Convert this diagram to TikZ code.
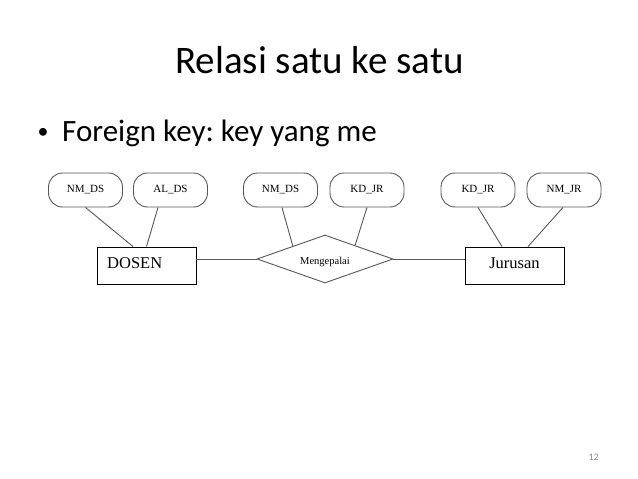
\documentclass[tikz,border=0pt]{standalone}
\usepackage{fontspec}
\setmainfont{Carlito}
\newfontfamily\erfont{Liberation Serif}
\usetikzlibrary{shapes.geometric,calc}
\definecolor{lncol}{HTML}{585858}
\definecolor{pgnum}{HTML}{8C8C8C}
\tikzset{
  attr/.style={draw=lncol, line width=0.9pt, rounded corners=14pt, minimum width=74pt, minimum height=34pt, inner sep=0pt, font=\erfont\fontsize{11}{13}\selectfont},
  entity/.style={draw=black, line width=0.9pt, minimum width=99pt, minimum height=37pt, inner sep=0pt},
  rel/.style={draw=lncol, line width=0.9pt, diamond, minimum width=136pt, minimum height=48pt, inner sep=0pt, aspect=2.83},
  reltext/.style={font=\erfont\fontsize{10.5}{12}\selectfont, inner sep=0pt},
  conn/.style={draw=lncol, line width=0.9pt},
  enttext/.style={font=\erfont\fontsize{16.5}{19}\selectfont, inner sep=0pt}
}
\begin{document}
\frenchspacing
\begin{tikzpicture}[x=1pt,y=-1pt]
\useasboundingbox[fill=white] (0,0) rectangle (638,479);
% title and text
\node[anchor=base, font=\fontsize{39}{46}\selectfont, inner sep=0pt] (title) at (319.5,73) {Relasi satu ke satu};
\node[anchor=base, font=\fontsize{22}{26}\selectfont, inner sep=0pt] (bullet) at (43,138) {•};
\node[anchor=base west, font=\fontsize{31}{36}\selectfont, inner sep=0pt] (body) at (62,141) {Foreign key: key yang me};
\node[anchor=base east, font=\fontsize{10}{12}\selectfont, text=pgnum, inner sep=0pt] (pg) at (599,460) {12};
% attributes
\node[attr] (nmds1) at (85.5,190) {NM\_DS};
\node[attr] (alds) at (170.5,190) {AL\_DS};
\node[attr] (nmds2) at (280.5,190) {NM\_DS};
\node[attr] (kdjr1) at (367,190) {KD\_JR};
\node[attr] (kdjr2) at (478,190) {KD\_JR};
\node[attr] (nmjr) at (564,190) {NM\_JR};
% entities
\node[entity] (dosen) at (146.5,265.5) {};
\node[enttext, anchor=base west] (dosentxt) at (107,268) {DOSEN};
\node[entity] (jurusan) at (514.5,265.5) {};
\node[enttext, anchor=base] (jurtxt) at (514.5,268) {Jurusan};
% relationship
\node[rel] (mg) at (325,259) {};
\node[reltext, anchor=base] (mgtxt) at (325,264.5) {Mengepalai};
\coordinate (mgA) at ($(mg.west)!0.53!(mg.north)$);
\coordinate (mgB) at ($(mg.north)!0.44!(mg.east)$);
% connectors
\draw[conn] (nmds1.south) -- ([xshift=-13.5pt]dosen.north);
\draw[conn] ([xshift=-12.5pt]alds.south) -- (dosen.north);
\draw[conn] ([xshift=1.5pt]nmds2.south) -- (mgA);
\draw[conn] (kdjr1.south) -- (mgB);
\draw[conn] (kdjr2.south) -- ([xshift=-12.5pt]jurusan.north);
\draw[conn] ([xshift=-1pt]nmjr.south) -- ([xshift=13.5pt]jurusan.north);
\draw[conn] (dosen.east |- mg.west) -- (mg.west);
\draw[conn] (mg.east) -- (jurusan.west |- mg.east);
\end{tikzpicture}
\end{document}
